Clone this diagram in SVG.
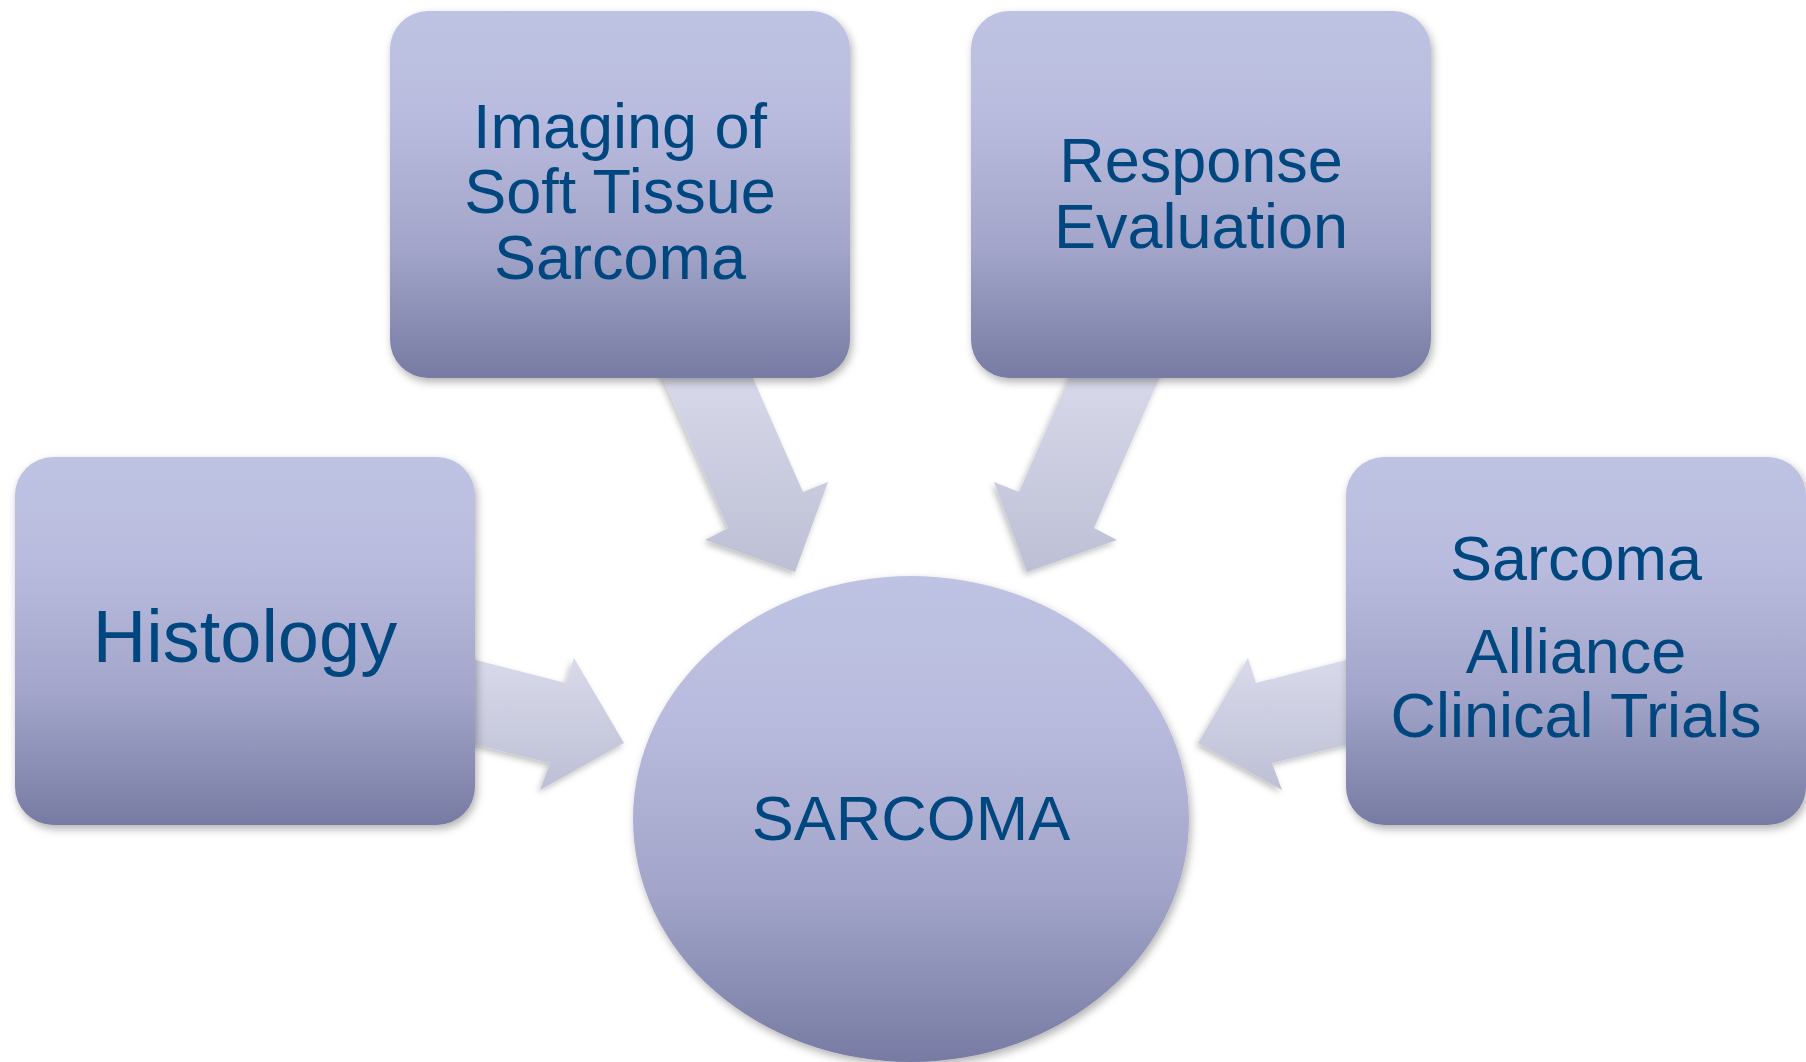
<svg xmlns="http://www.w3.org/2000/svg" width="1806" height="1062" viewBox="0 0 1806 1062">
  <defs>
    <linearGradient id="nodeFill" x1="0" y1="0" x2="0" y2="1">
      <stop offset="0" stop-color="#BFC3E3"/>
      <stop offset="0.3" stop-color="#B8BBDD"/>
      <stop offset="0.65" stop-color="#A2A5C9"/>
      <stop offset="1" stop-color="#777BA3"/>
    </linearGradient>
    <linearGradient id="arrowFill" x1="0" y1="0" x2="0" y2="1">
      <stop offset="0" stop-color="#D9DAEA"/>
      <stop offset="1" stop-color="#BDBFD5"/>
    </linearGradient>
    <filter id="shadow" x="-10%" y="-10%" width="125%" height="125%">
      <feDropShadow dx="2" dy="4" stdDeviation="4" flood-color="#000" flood-opacity="0.3"/>
    </filter>
    <filter id="arrowShadow" x="-15%" y="-15%" width="130%" height="130%">
      <feDropShadow dx="-2" dy="3" stdDeviation="3" flood-color="#000" flood-opacity="0.25"/>
    </filter>
  </defs>
  <style>
    .box { fill: url(#nodeFill); filter: url(#shadow); }
    .arrow { fill: url(#arrowFill); filter: url(#arrowShadow); }
    .label { font-family: "Liberation Sans", Arial, sans-serif; fill: #00467F; text-anchor: middle; font-size: 63px; }
  </style>
  <rect width="1806" height="1062" fill="#FFFFFF"/>

  <!-- block arrows pointing into the centre -->
  <g id="connectors">
    <polygon class="arrow" points="655,360 745,360 803,492 828,482 795,572 705,540 728,528"/>
    <polygon class="arrow" points="1167,360 1077,360 1019,492 994,482 1027,572 1117,540 1094,528"/>
    <polygon class="arrow" points="456,655 566,683 574,658 624,743 540,790 550,763 456,740"/>
    <polygon class="arrow" points="1366,655 1256,683 1248,658 1198,743 1282,790 1272,763 1366,740"/>
  </g>

  <g id="imaging">
    <rect class="box" x="390" y="11" width="460" height="367" rx="38" ry="38"/>
    <text class="label" x="620" y="148">Imaging of</text>
    <text class="label" x="620" y="213">Soft Tissue</text>
    <text class="label" x="620" y="279">Sarcoma</text>
  </g>

  <g id="response">
    <rect class="box" x="971" y="11" width="460" height="367" rx="38" ry="38"/>
    <text class="label" x="1201" y="182">Response</text>
    <text class="label" x="1201" y="248">Evaluation</text>
  </g>

  <g id="histology">
    <rect class="box" x="15" y="457" width="460" height="368" rx="38" ry="38"/>
    <text class="label" x="245" y="662" style="font-size:74px">Histology</text>
  </g>

  <g id="alliance">
    <rect class="box" x="1346" y="457" width="460" height="368" rx="38" ry="38"/>
    <text class="label" x="1576" y="580">Sarcoma</text>
    <text class="label" x="1576" y="673">Alliance</text>
    <text class="label" x="1576" y="737">Clinical Trials</text>
  </g>

  <g id="sarcoma">
    <ellipse class="box" cx="911" cy="819" rx="278" ry="243"/>
    <text class="label" x="911" y="840">SARCOMA</text>
  </g>
</svg>
